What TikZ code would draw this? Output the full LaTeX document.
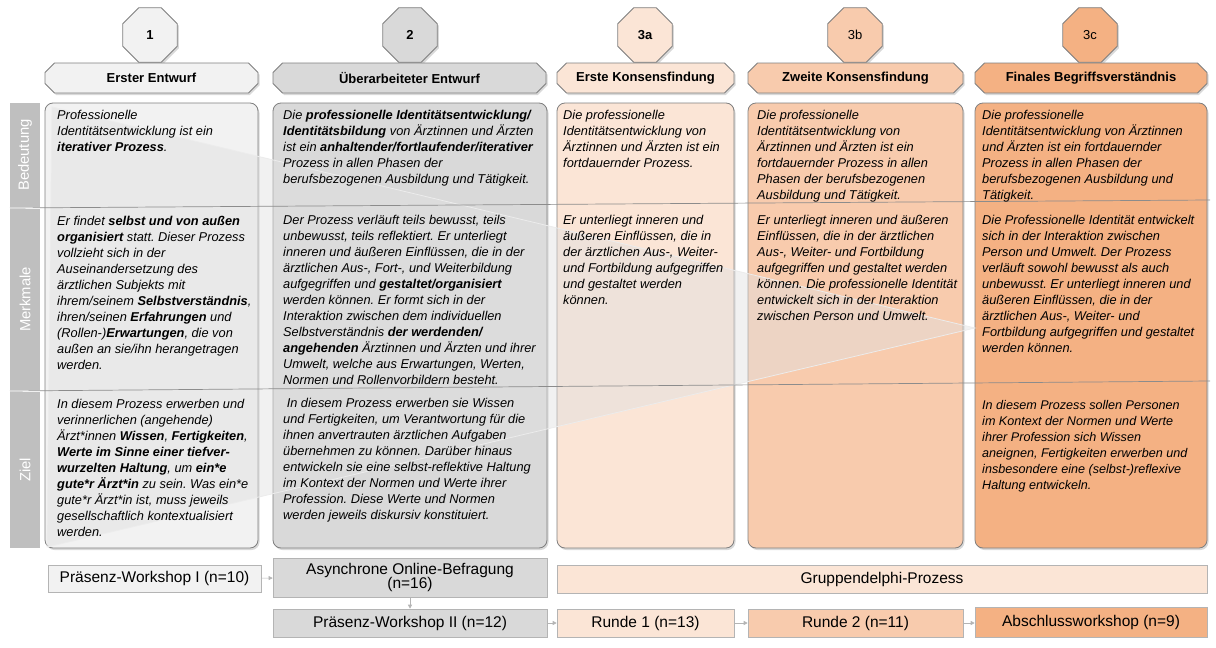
\documentclass[tikz,border=0pt]{standalone}
\usepackage{fontspec}
\setmainfont{Liberation Sans}
\usepackage{tikz}
\usetikzlibrary{arrows.meta,shapes.geometric,shapes.misc,shadows}
\frenchspacing

\definecolor{grauA}{HTML}{F2F2F2}
\definecolor{grauB}{HTML}{D9D9D9}
\definecolor{orangeA}{HTML}{FBE5D6}
\definecolor{orangeB}{HTML}{F8CBAD}
\definecolor{orangeC}{HTML}{F4B183}
\definecolor{rand}{HTML}{7F7F7F}
\definecolor{randhell}{HTML}{B4B4B4}
\definecolor{leiste}{HTML}{BFBFBF}

\begin{document}
\begin{tikzpicture}[x=1pt,y=-1pt,
    schatten/.style={drop shadow={opacity=.3,shadow xshift=1.5pt,shadow yshift=-2pt}},
    phase/.style={regular polygon, regular polygon sides=8, minimum size=59pt, draw=rand, line width=.8pt, schatten, font=\fontsize{13}{15}\selectfont, inner sep=0pt},
    kopf/.style={chamfered rectangle, chamfered rectangle xsep=6pt, draw=rand, line width=.8pt, minimum height=30pt, schatten, font=\fontsize{13}{15}\selectfont\bfseries, inner xsep=0pt},
    karte/.style={rectangle, rounded corners=8pt, draw=rand, line width=.8pt, minimum height=445pt, schatten},
    txt/.style={anchor=north west, align=left, inner sep=0pt, font=\fontsize{12.8}{16}\selectfont\itshape},
    leistetxt/.style={rectangle, fill=leiste, minimum width=30pt, inner sep=0pt, text=white, font=\fontsize{14.8}{16}\selectfont},
    schritt/.style={rectangle, draw=randhell, line width=.6pt, font=\fontsize{15.5}{17}\selectfont, align=center, inner sep=0pt},
    pfeil/.style={-{Triangle[length=4pt,width=4pt]}, draw=randhell, line width=.6pt},
    keil/.style={fill=black!12, fill opacity=.45, draw=white!85!gray, line width=.8pt},
    zeile/.style={draw=black!45, line width=.7pt}]
    \useasboundingbox (0,0) rectangle (1216,648);

    % Phasen
    \node[phase, fill=grauA] at (150,35) (p1) {\bfseries 1};
    \node[phase, fill=grauB] at (410,35) (p2) {\bfseries 2};
    \node[phase, fill=orangeA] at (645,35) (p3a) {\bfseries 3a};
    \node[phase, fill=orangeB] at (855,35) (p3b) {3b};
    \node[phase, fill=orangeC] at (1090,35) (p3c) {3c};

    % Kopfzeilen
    \node[kopf, fill=grauA, minimum width=213pt] at (151.5,78) (k1) {Erster Entwurf};
    \node[kopf, fill=grauB, minimum width=273pt] at (409.5,78) (k2) {Überarbeiteter Entwurf};
    \node[kopf, fill=orangeA, minimum width=177pt] at (645.5,78) (k3a) {Erste Konsensfindung};
    \node[kopf, fill=orangeB, minimum width=215pt] at (855.5,78) (k3b) {Zweite Konsensfindung};
    \node[kopf, fill=orangeC, minimum width=232pt] at (1091,78) (k3c) {Finales Begriffsverständnis};

    % Leiste links
    \node[leistetxt, minimum height=104pt] at (25,155) (lb) {\rotatebox{90}{Bedeutung}};
    \node[leistetxt, minimum height=181pt] at (25,299.5) (lm) {\rotatebox{90}{Merkmale}};
    \node[leistetxt, minimum height=156pt] at (25,470) (lz) {\rotatebox{90}{Ziel}};

    % Karten
    \node[karte, fill=grauA, minimum width=213pt] at (151.5,325.5) (c1) {};
    \node[karte, fill=grauB, minimum width=274pt] at (410,325.5) (c2) {};
    \node[karte, fill=orangeA, minimum width=177pt] at (645.5,325.5) (c3a) {};
    \node[karte, fill=orangeB, minimum width=215pt] at (855.5,325.5) (c3b) {};
    \node[karte, fill=orangeC, minimum width=232pt] at (1091,325.5) (c3c) {};

    % Keil
    \path[keil] (52,107) -- (975,328) -- (47,547) -- cycle;

    % Zeilen
    \draw[zeile] (10,208) -- (1210,200);
    \draw[zeile] (10,391) -- (1210,381);

    % Bedeutung
    \node[txt] at (57,110.5) (b1) {Professionelle\\Identitätsentwicklung ist ein\\\textbf{iterativer Prozess}.};
    \node[txt] at (283,110.5) (b2) {Die \textbf{professionelle Identitätsentwicklung/}\\\textbf{Identitätsbildung} von Ärztinnen und Ärzten\\ist ein \textbf{anhaltender/fortlaufender/iterativer}\\Prozess in allen Phasen der\\berufsbezogenen Ausbildung und Tätigkeit.};
    \node[txt] at (563,110.5) (b3a) {Die professionelle\\Identitätsentwicklung von\\Ärztinnen und Ärzten ist ein\\fortdauernder Prozess.};
    \node[txt] at (757,110.5) (b3b) {Die professionelle\\Identitätsentwicklung von\\Ärztinnen und Ärzten ist ein\\fortdauernder Prozess in allen\\Phasen der berufsbezogenen\\Ausbildung und Tätigkeit.};
    \node[txt] at (982,110.5) (b3c) {Die professionelle\\Identitätsentwicklung von Ärztinnen\\und Ärzten ist ein fortdauernder\\Prozess in allen Phasen der\\berufsbezogenen Ausbildung und\\Tätigkeit.};

    % Merkmale
    \node[txt] at (57,216) (m1) {Er findet \textbf{selbst und von außen}\\\textbf{organisiert} statt. Dieser Prozess\\vollzieht sich in der\\Auseinandersetzung des\\ärztlichen Subjekts mit\\ihrem/seinem \textbf{Selbstverständnis},\\ihren/seinen \textbf{Erfahrungen} und\\(Rollen-)\textbf{Erwartungen}, die von\\außen an sie/ihn herangetragen\\werden.};
    \node[txt] at (283,215) (m2) {Der Prozess verläuft teils bewusst, teils\\unbewusst, teils reflektiert. Er unterliegt\\inneren und äußeren Einflüssen, die in der\\ärztlichen Aus-, Fort-, und Weiterbildung\\aufgegriffen und \textbf{gestaltet/organisiert}\\werden können. Er formt sich in der\\Interaktion zwischen dem individuellen\\Selbstverständnis \textbf{der werdenden/}\\\textbf{angehenden} Ärztinnen und Ärzten und ihrer\\Umwelt, welche aus Erwartungen, Werten,\\Normen und Rollenvorbildern besteht.};
    \node[txt] at (563,215) (m3a) {Er unterliegt inneren und\\äußeren Einflüssen, die in\\der ärztlichen Aus-, Weiter-\\und Fortbildung aufgegriffen\\und gestaltet werden\\können.};
    \node[txt] at (757,215) (m3b) {Er unterliegt inneren und äußeren\\Einflüssen, die in der ärztlichen\\Aus-, Weiter- und Fortbildung\\aufgegriffen und gestaltet werden\\können. Die professionelle Identität\\entwickelt sich in der Interaktion\\zwischen Person und Umwelt.};
    \node[txt] at (982,215) (m3c) {Die Professionelle Identität entwickelt\\sich in der Interaktion zwischen\\Person und Umwelt. Der Prozess\\verläuft sowohl bewusst als auch\\unbewusst. Er unterliegt inneren und\\äußeren Einflüssen, die in der\\ärztlichen Aus-, Weiter- und\\Fortbildung aufgegriffen und gestaltet\\werden können.};

    % Ziel
    \node[txt] at (57,399.5) (z1) {In diesem Prozess erwerben und\\verinnerlichen (angehende)\\Ärzt*innen \textbf{Wissen}, \textbf{Fertigkeiten},\\\textbf{Werte im Sinne einer tiefver-}\\\textbf{wurzelten Haltung}, um \textbf{ein*e}\\\textbf{gute*r Ärzt*in} zu sein. Was ein*e\\gute*r Ärzt*in ist, muss jeweils\\gesellschaftlich kontextualisiert\\werden.};
    \node[txt] at (283,398.5) (z2) {\ In diesem Prozess erwerben sie Wissen\\und Fertigkeiten, um Verantwortung für die\\ihnen anvertrauten ärztlichen Aufgaben\\übernehmen zu können. Darüber hinaus\\entwickeln sie eine selbst-reflektive Haltung\\im Kontext der Normen und Werte ihrer\\Profession. Diese Werte und Normen\\werden jeweils diskursiv konstituiert.};
    \node[txt, font=\fontsize{12.6}{16}\selectfont\itshape] at (982,400) (z3c) {In diesem Prozess sollen Personen\\im Kontext der Normen und Werte\\ihrer Profession sich Wissen\\aneignen, Fertigkeiten erwerben und\\insbesondere eine (selbst-)reflexive\\Haltung entwickeln.};

    % Ablauf
    \node[schritt, fill=grauA, minimum width=213pt, minimum height=27pt] at (154.5,578.5) (ws1) {Präsenz-Workshop I (n=10)};
    \node[schritt, fill=grauB, minimum width=274pt, minimum height=39pt] at (410,577.5) (onl) {Asynchrone Online-Befragung\\[-3.5pt](n=16)};
    \node[schritt, fill=orangeA, minimum width=650pt, minimum height=28pt] at (882,579) (gdp) {Gruppendelphi-Prozess};
    \node[schritt, fill=grauB, minimum width=274pt, minimum height=28pt] at (410,623) (ws2) {Präsenz-Workshop II (n=12)};
    \node[schritt, fill=orangeA, minimum width=177pt, minimum height=28pt] at (645.5,623) (r1) {Runde 1 (n=13)};
    \node[schritt, fill=orangeB, minimum width=215pt, minimum height=28pt] at (855.5,623) (r2) {Runde 2 (n=11)};
    \node[schritt, fill=orangeC, minimum width=232pt, minimum height=30pt] at (1091,622) (abw) {Abschlussworkshop (n=9)};

    \draw[pfeil] (ws1) -- (onl);
    \draw[pfeil] (onl) -- (ws2);
    \draw[pfeil] (ws2) -- (r1);
    \draw[pfeil] (r1) -- (r2);
    \draw[pfeil] (r2.east) -- (abw.west |- r2.east);
\end{tikzpicture}
\end{document}
